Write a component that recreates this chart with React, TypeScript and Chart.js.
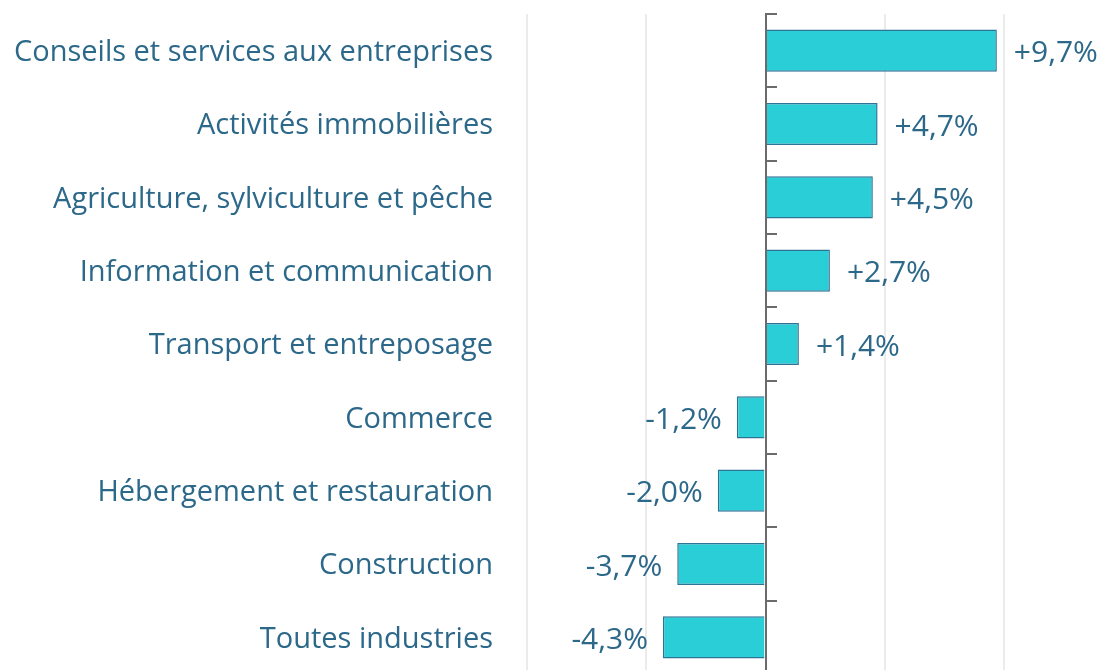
import React, { useEffect, useRef } from "react";
import { Chart, registerables } from "chart.js";

Chart.register(...registerables);

const categories = [
  "Conseils et services aux entreprises",
  "Activités immobilières",
  "Agriculture, sylviculture et pêche",
  "Information et communication",
  "Transport et entreposage",
  "Commerce",
  "Hébergement et restauration",
  "Construction",
  "Toutes industries",
];
const values = [9.7, 4.7, 4.5, 2.7, 1.4, -1.2, -2.0, -3.7, -4.3];
const valueLabels = ["+9,7%", "+4,7%", "+4,5%", "+2,7%", "+1,4%", "-1,2%", "-2,0%", "-3,7%", "-4,3%"];

const TEXT = "#2c6889";
const FONT = "'Open Sans', 'Noto Sans', sans-serif";

const zeroAxisPlugin = {
  id: "zeroAxis",
  afterDatasetsDraw(chart: any) {
    const { ctx, chartArea, scales } = chart;
    const x0 = Math.round(scales.x.getPixelForValue(0));
    const ys = scales.y;
    ctx.save();
    ctx.strokeStyle = "#6b6b6b";
    ctx.lineWidth = 2;
    ctx.beginPath();
    ctx.moveTo(x0, chartArea.top);
    ctx.lineTo(x0, chartArea.bottom);
    ctx.stroke();
    const n = categories.length;
    for (let i = 0; i <= n; i++) {
      const y = Math.round(ys.getPixelForValue(i - 0.5));
      ctx.beginPath();
      ctx.moveTo(x0 - 1, y);
      ctx.lineTo(x0 + 11, y);
      ctx.stroke();
    }
    ctx.restore();
  },
};

const valueLabelPlugin = {
  id: "valueLabels",
  afterDatasetsDraw(chart: any) {
    const { ctx } = chart;
    const meta = chart.getDatasetMeta(0);
    ctx.save();
    ctx.fillStyle = TEXT;
    ctx.font = `30px ${FONT}`;
    ctx.textBaseline = "middle";
    meta.data.forEach((bar: any, i: number) => {
      const v = values[i];
      if (v >= 0) {
        ctx.textAlign = "left";
        ctx.fillText(valueLabels[i], bar.x + 17, bar.y + 3);
      } else {
        ctx.textAlign = "right";
        ctx.fillText(valueLabels[i], bar.x - 15, bar.y + 3);
      }
    });
    ctx.restore();
  },
};

export default function App() {
  const ref = useRef<HTMLCanvasElement>(null);
  useEffect(() => {
    document.body.style.margin = "0";
    const chart = new Chart(ref.current!, {
      type: "bar",
      data: {
        labels: categories,
        datasets: [
          {
            data: values,
            backgroundColor: "#29ced7",
            borderColor: "#2f7394",
            borderWidth: 1.5,
            barPercentage: 0.575,
            categoryPercentage: 1,
          },
        ],
      },
      options: {
        indexAxis: "y",
        responsive: false,
        animation: false,
        layout: { padding: { top: 14, right: 98, bottom: 0, left: 0 } },
        plugins: { legend: { display: false }, tooltip: { enabled: false } },
        scales: {
          x: {
            min: -10,
            max: 10,
            ticks: { display: false, stepSize: 5 },
            grid: { color: "#ebebeb", lineWidth: 2, drawTicks: false },
            border: { display: false },
            afterFit: (s: any) => {
              s.height = 0;
              s.paddingLeft = 0;
              s.paddingRight = 0;
            },
          },
          y: {
            position: "left",
            ticks: { color: TEXT, font: { family: FONT, size: 29 }, padding: 34, labelOffset: 2 },
            grid: { display: false, drawTicks: false },
            border: { display: false },
            afterFit: (s: any) => {
              s.width = 527;
              s.paddingTop = 0;
              s.paddingBottom = 0;
            },
          },
        },
      },
      plugins: [zeroAxisPlugin, valueLabelPlugin],
    });
    return () => chart.destroy();
  }, []);
  return (
    <div style={{ width: 1102, height: 670, overflow: "hidden", position: "relative", background: "#fff" }}>
      <canvas ref={ref} width={1102} height={674} style={{ display: "block" }} />
    </div>
  );
}
